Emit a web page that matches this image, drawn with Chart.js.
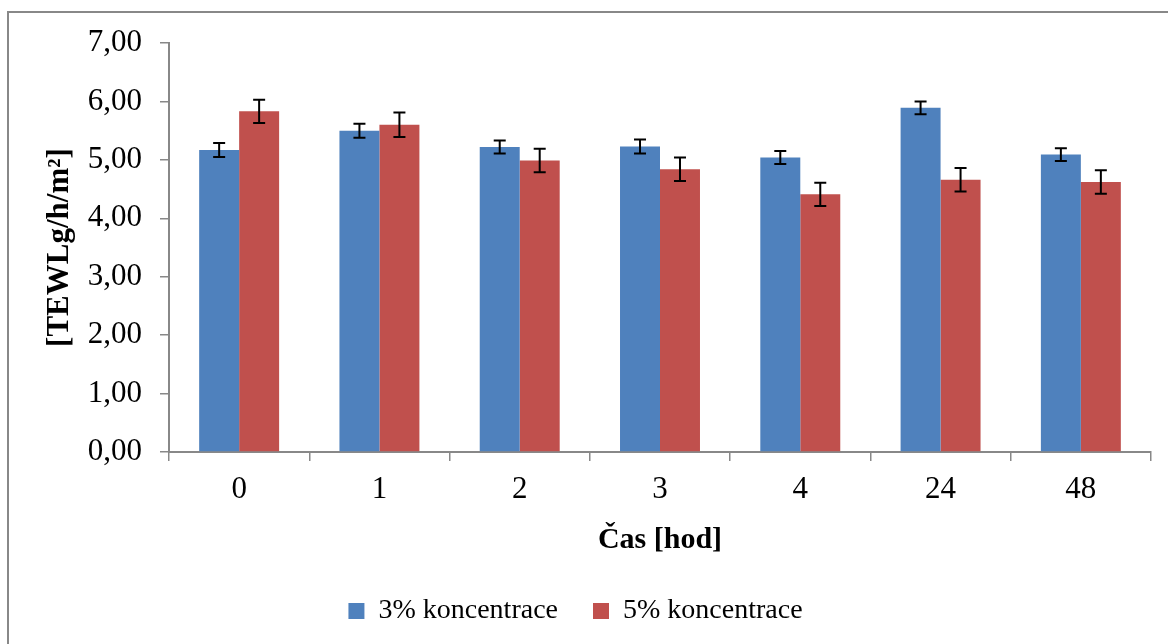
<!DOCTYPE html>
<html lang="cs">
<head>
    <meta charset="utf-8">
    <title>TEWL</title>
    <script src="https://cdn.jsdelivr.net/npm/chart.js"></script>
    <style>
        body { margin: 0; background: #fff; }
        #wrap { position: relative; width: 1168px; height: 644px; overflow: hidden; }
        #frame { position: absolute; left: 7px; top: 11px; width: 1200px; height: 700px;
                 border-top: 2px solid #888; border-left: 2px solid #888; }
        canvas { position: absolute; left: 0; top: 0; }
    </style>
</head>
<body>
    <div id="wrap">
        <div id="frame"></div>
        <canvas id="tewlChart" width="1168" height="644"></canvas>
    </div>

    <script>
        const casy = ['0', '1', '2', '3', '4', '24', '48'];
        const konc3 = [5.17, 5.50, 5.22, 5.23, 5.04, 5.89, 5.09];
        const konc5 = [5.83, 5.60, 4.99, 4.84, 4.41, 4.66, 4.62];
        const chyba3 = [0.12, 0.12, 0.11, 0.12, 0.11, 0.11, 0.11];
        const chyba5 = [0.20, 0.21, 0.20, 0.20, 0.20, 0.20, 0.20];

        const serif = '"Liberation Serif", "Times New Roman", serif';

        // error bars drawn over each bar
        const errorBars = {
            id: 'errorBars',
            afterDatasetsDraw(chart) {
                const ctx = chart.ctx;
                const y = chart.scales.y;
                ctx.save();
                ctx.strokeStyle = '#000';
                ctx.lineWidth = 2;
                chart.data.datasets.forEach((ds, di) => {
                    const meta = chart.getDatasetMeta(di);
                    meta.data.forEach((bar, i) => {
                        const v = ds.data[i], e = ds.errors[i];
                        const top = y.getPixelForValue(v + e);
                        const bot = y.getPixelForValue(v - e);
                        ctx.beginPath();
                        ctx.moveTo(bar.x, top); ctx.lineTo(bar.x, bot);
                        ctx.moveTo(bar.x - 6, top); ctx.lineTo(bar.x + 6, top);
                        ctx.moveTo(bar.x - 6, bot); ctx.lineTo(bar.x + 6, bot);
                        ctx.stroke();
                    });
                });
                ctx.restore();
            }
        };

        new Chart(document.getElementById('tewlChart'), {
            type: 'bar',
            data: {
                labels: casy,
                datasets: [
                    { label: '3% koncentrace', data: konc3, errors: chyba3, backgroundColor: '#4F81BD' },
                    { label: '5% koncentrace', data: konc5, errors: chyba5, backgroundColor: '#C0504D' }
                ]
            },
            options: {
                responsive: false,
                animation: false,
                devicePixelRatio: 1,
                layout: { padding: { left: 0, top: 43, right: 17, bottom: 9 } },
                datasets: { bar: { categoryPercentage: 0.57, barPercentage: 1 } },
                plugins: {
                    tooltip: { enabled: false },
                    legend: {
                        position: 'bottom',
                        labels: {
                            boxWidth: 16, boxHeight: 16, padding: 35, color: '#000',
                            font: { family: serif, size: 28 }
                        }
                    }
                },
                scales: {
                    x: {
                        afterFit: s => { s.height = 110; },
                        grid: { drawOnChartArea: false, color: '#888', lineWidth: 1.5, tickLength: 9 },
                        border: { color: '#888', width: 2 },
                        ticks: { color: '#000', padding: 10, font: { family: serif, size: 31 } },
                        title: { display: true, text: 'Čas [hod]', color: '#000',
                                 font: { family: serif, size: 30, weight: 'bold' } }
                    },
                    y: {
                        min: 0, max: 7,
                        afterFit: s => { s.width = 169; },
                        grid: { drawOnChartArea: false, color: '#888', lineWidth: 1.5, tickLength: 9 },
                        border: { color: '#888', width: 2 },
                        ticks: {
                            stepSize: 1, color: '#000', padding: 18,
                            font: { family: serif, size: 31 },
                            callback: v => v.toFixed(2).replace('.', ',')
                        },
                        title: { display: true, text: '[TEWLg/h/m²]', color: '#000',
                                 padding: { top: 41, bottom: 0 },
                                 font: { family: serif, size: 31, weight: 'bold' } }
                    }
                }
            },
            plugins: [errorBars]
        });
    </script>
</body>
</html>
